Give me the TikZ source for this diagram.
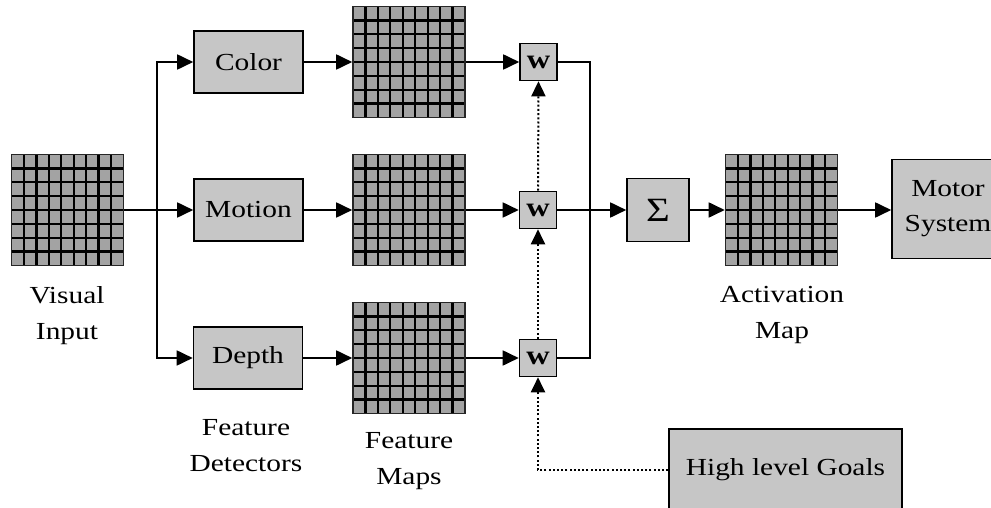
\documentclass[tikz,border=0pt]{standalone}
\usepackage{fontspec}
\setmainfont{Liberation Serif}[FakeStretch=1.2]
\usetikzlibrary{arrows.meta,calc}
\begin{document}
\begin{tikzpicture}[x=1pt,y=-1pt,
  box/.style={draw=black, line width=1.6pt, fill=gray!45, inner sep=0pt,
    font=\fontsize{24.5}{35}\selectfont, align=center},
  fmap/.style={draw=black!85, line width=1.6pt, fill=gray!72, inner sep=0pt,
    minimum width=112pt, minimum height=111pt,
    path picture={
      \foreach \k in {1,...,8}{
        \draw[line width=2.3pt,black]
          ($(path picture bounding box.north west)!\k/9!(path picture bounding box.north east)$) --
          ($(path picture bounding box.south west)!\k/9!(path picture bounding box.south east)$);}
      \foreach \k in {1,...,7}{
        \draw[line width=2.3pt,black]
          ($(path picture bounding box.north west)!\k/8!(path picture bounding box.south west)$) --
          ($(path picture bounding box.north east)!\k/8!(path picture bounding box.south east)$);}
    }},
  det/.style={box, minimum width=109pt, minimum height=62pt},
  wbox/.style={box, minimum width=37pt, minimum height=37pt, font=\fontsize{27}{27}\selectfont\bfseries},
  lbl/.style={align=center, font=\fontsize{24.5}{36}\selectfont},
  ln/.style={line width=1.8pt},
  arr/.style={line width=1.8pt, -{Triangle[length=16pt,width=15pt]}},
  dotarr/.style={line width=2pt, dash pattern=on 2pt off 2.2pt, -{Triangle[length=15pt,width=14pt]}}
]
\path[use as bounding box, clip] (0,0) rectangle (991,508);

% grids
\node[fmap] (vi) at (67.5,210) {};
\node[fmap] (m1) at (409,62) {};
\node[fmap] (m2) at (409,210) {};
\node[fmap] (m3) at (409,358) {};
\node[fmap] (am) at (781.5,210) {};

% detectors
\node[det] (col) at (248.5,62) {Color};
\node[det] (mot) at (248.5,210) {Motion};
\node[det] (dep) at (248,358) {Depth};

% weights
\node[wbox] (w1) at (538.5,62) {w};
\node[wbox] (w2) at (538,210) {w};
\node[wbox] (w3) at (538,358) {w};

% sum, motor, goals
\node[box, minimum width=62pt, minimum height=63pt, font=\fontsize{34}{34}\selectfont] (sig) at (658,210) {Σ};
\node[box, minimum width=112pt, minimum height=99pt] (motor) at (948,209) {Motor\\System};
\node[box, minimum width=233pt, minimum height=82pt] (hlg) at (785.5,470) {High level Goals};

% labels
\node[lbl] (lvi) at (67,316) {Visual\\Input};
\node[lbl] (lfd) at (246,446) {Feature\\Detectors};
\node[lbl] (lfm) at (409,461) {Feature\\Maps};
\node[lbl] (lam) at (782,315) {Activation\\Map};

% coordinates
\coordinate (br) at (157,210);
\coordinate (jb) at (590,358);

% connectors
\draw[arr] (vi.east) -- (mot.west);
\draw[arr] (br) |- (col.west);
\draw[arr] (br) |- (dep.west);
\draw[arr] (col.east) -- (m1.west);
\draw[arr] (mot.east) -- (m2.west);
\draw[arr] (dep.east) -- (m3.west);
\draw[arr] (m1.east) -- (w1.west);
\draw[arr] (m2.east) -- (w2.west);
\draw[arr] (m3.east) -- (w3.west);
\draw[ln] (w1.east) -| (jb) -- (w3.east);
\draw[arr] (w2.east) -- (sig.west);
\draw[arr] (sig.east) -- (am.west);
\draw[arr] (am.east) -- (motor.west |- am.east);
\draw[dotarr] (w2.north) -- (w1.south);
\draw[dotarr] (w3.north) -- (w2.south);
\draw[dotarr] (hlg.west) -| (w3.south);
\end{tikzpicture}
\end{document}
